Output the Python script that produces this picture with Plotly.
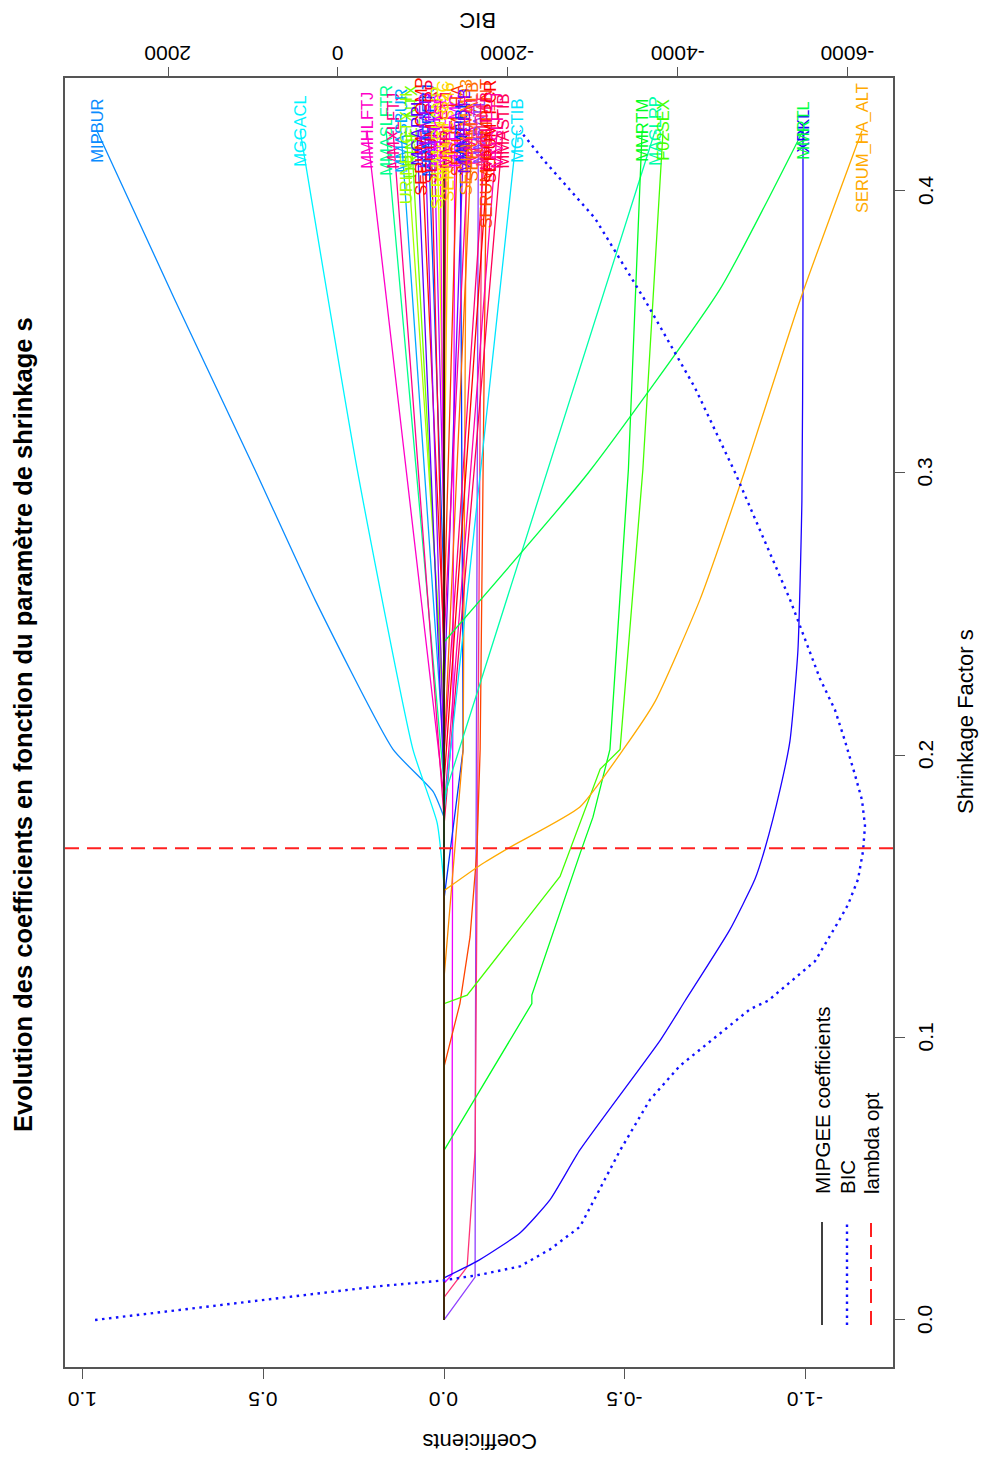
import plotly.graph_objects as go

# ---------------- data ----------------
coef_ticks = [1.0, 0.5, 0.0, -0.5, -1.0]
coef_tick_labels = ["1.0", "0.5", "0.0", "-0.5", "-1.0"]
bic_ticks = [2000, 0, -2000, -4000, -6000]
bic_tick_labels = ["2000", "0", "-2000", "-4000", "-6000"]
s_ticks = [0.0, 0.1, 0.2, 0.3, 0.4]
s_tick_labels = ["0.0", "0.1", "0.2", "0.3", "0.4"]

lambda_opt = 0.167
s_end = 0.421

bic_s = [0.0, 0.012, 0.014, 0.016, 0.019, 0.025, 0.033, 0.05, 0.06, 0.078, 0.09, 0.1, 0.11,
         0.113, 0.118, 0.127, 0.142, 0.147, 0.156, 0.166, 0.175, 0.184, 0.193, 0.205, 0.216,
         0.227, 0.255, 0.3, 0.33, 0.361, 0.39, 0.41, 0.421]
bic_values = [2860, -498, -1240, -1675, -2147, -2500, -2853, -3149, -3325, -3678, -4031, -4444, -4856,
              -5068, -5268, -5622, -5917, -6011, -6129, -6188, -6211, -6176, -6093, -5975, -5857,
              -5681, -5328, -4680, -4208, -3619, -3030, -2442, -2147]

var_names = ["MIPBUR", "MGGACL", "MMHLFTJ", "MMASLFTR", "MMXLFTJ", "MMASBUR", "URINE_CTX_II",
             "URINE_NTX", "MGAPPL", "SERUM_COMP", "LIMNMED", "MMMEDFTJ", "SERUM_CRP", "MMLLFTJ",
             "SERUM_PIIANP", "MGCOSB", "SERUM_C2C", "MMRLFTJ", "SERUM_CS846", "MGFEMC", "SERUM_HA",
             "MMTIBL", "SERUM_MMP3", "MMMEDTB", "MMSEAT", "SERUM_ALB", "MMPATL", "MMFEMT",
             "SERUM_COMP_NT", "MMSLFTB", "SERUM_PCR", "MMSLFTJ", "MMASTIB", "MGCTIB", "MAGLRP",
             "MMRTM", "F02SEX", "XRKL", "MMRTL", "SERUM_HA_ALT"]

var_colors = ["#0A8CFF", "#00F5FF", "#FF00C8", "#00FF8C", "#FF008C", "#00AAFF", "#A6FF00",
              "#73FF00", "#5500FF", "#FF1100", "#9900FF", "#0055FF", "#FF0033", "#BB00FF",
              "#DDFF00", "#FF00FF", "#FFEE00", "#FF0066", "#FFCC00", "#EE00FF", "#FF3300",
              "#0033FF", "#FF8800", "#7700FF", "#FF0099", "#FF6600", "#8F3FFF", "#FF3377",
              "#FF4400", "#FF0077", "#FF0000", "#FF00AA", "#FF0055", "#00E5FF", "#00FFAA",
              "#00FF22", "#44FF00", "#1A00FF", "#00FF44", "#FFAA00"]

smooth_vars = ["MIPBUR", "MGGACL", "XRKL", "MMRTL", "SERUM_HA_ALT"]

path_s = [
    [0, 0.178, 0.187, 0.202, 0.255, 0.301, 0.361, 0.421],          # MIPBUR
    [0, 0.154, 0.176, 0.202, 0.301, 0.421],                        # MGGACL
    [0, 0.185, 0.421], [0, 0.19, 0.421], [0, 0.178, 0.421], [0, 0.2, 0.421],
    [0, 0.22, 0.421], [0, 0.21, 0.421], [0, 0.19, 0.421], [0, 0.24, 0.421],
    [0, 0.2, 0.421], [0, 0.26, 0.421], [0, 0.23, 0.421], [0, 0.28, 0.421],
    [0, 0.3, 0.421], [0, 0.27, 0.421], [0, 0.32, 0.421], [0, 0.3, 0.421],
    [0, 0.29, 0.421],
    [0, 0.013, 0.016, 0.2, 0.421],                                 # MGFEMC
    [0, 0.25, 0.421],
    [0, 0.149, 0.202, 0.421],                                      # MMTIBL
    [0, 0.121, 0.202, 0.421],                                      # SERUM_MMP3
    [0, 0.22, 0.421], [0, 0.24, 0.421], [0, 0.2, 0.421],
    [0, 0.0152, 0.1, 0.2, 0.421],                                  # MMPATL
    [0, 0.008, 0.0188, 0.06, 0.2, 0.421],                          # MMFEMT
    [0, 0.0896, 0.112, 0.1356, 0.166, 0.202, 0.421],               # SERUM_COMP_NT
    [0, 0.2, 0.421], [0, 0.19, 0.421], [0, 0.18, 0.421], [0, 0.175, 0.421],
    [0, 0.18, 0.421],                                              # MGCTIB
    [0, 0.185, 0.421],                                             # MAGLRP
    [0, 0.060, 0.112, 0.115, 0.165, 0.178, 0.202, 0.301, 0.421],   # MMRTM
    [0, 0.112, 0.115, 0.157, 0.195, 0.202, 0.301, 0.421],          # F02SEX
    [0, 0.0149, 0.0212, 0.0308, 0.0425, 0.0602, 0.099, 0.113, 0.138, 0.156, 0.167,
     0.188, 0.205, 0.237, 0.29, 0.361, 0.421],                     # XRKL
    [0, 0.24, 0.30, 0.365, 0.421],                                 # MMRTL
    [0, 0.152, 0.161, 0.1674, 0.1816, 0.2018, 0.219, 0.255, 0.301, 0.361, 0.421],  # SERUM_HA_ALT
]
path_coef = [
    [0, 0, 0.030, 0.141, 0.357, 0.523, 0.744, 0.96],
    [0, 0, 0.019, 0.086, 0.24, 0.398],
    [0, 0, 0.213], [0, 0, 0.160], [0, 0, 0.141], [0, 0, 0.119],
    [0, 0, 0.105], [0, 0, 0.091], [0, 0, 0.075], [0, 0, 0.064],
    [0, 0, 0.053], [0, 0, 0.044], [0, 0, 0.036], [0, 0, 0.028],
    [0, 0, 0.019], [0, 0, 0.011], [0, 0, 0.003], [0, 0, -0.006],
    [0, 0, -0.014],
    [0, 0, -0.022, -0.024, -0.030],
    [0, 0, -0.038],
    [0, 0, -0.053, -0.045],
    [0, 0, -0.053, -0.062],
    [0, 0, -0.055], [0, 0, -0.070], [0, 0, -0.078],
    [0, -0.086, -0.087, -0.089, -0.095],
    [0, 0, -0.064, -0.086, -0.094, -0.105],
    [0, 0, -0.044, -0.072, -0.091, -0.100, -0.118],
    [0, 0, -0.116], [0, 0, -0.127], [0, 0, -0.147], [0, 0, -0.163],
    [0, 0, -0.202],
    [0, 0, -0.584],
    [0, 0, -0.243, -0.243, -0.376, -0.412, -0.459, -0.51, -0.548],
    [0, 0, -0.064, -0.321, -0.432, -0.487, -0.55, -0.606],
    [0, 0, -0.097, -0.21, -0.293, -0.376, -0.598, -0.667, -0.79, -0.86, -0.888,
     -0.93, -0.957, -0.979, -0.99, -0.993, -0.993],
    [0, 0, -0.40, -0.764, -0.993],
    [0, 0, -0.1, -0.183, -0.376, -0.495, -0.584, -0.708, -0.833, -0.985, -1.156],
]
zero_path_s = [0, 0.421]
zero_path_coef = [0, 0]

# ---------------- layout geometry (page pixels) ----------------
W, H = 982, 1458
PL, PR, PT, PB = 65, 893, 78, 1367
coef_range = [1.0484, -1.2420]
bic_range = [3214, -6541]
s_range = [-0.01664, 0.43965]
FONT = "Liberation Sans, Arial, Helvetica, sans-serif"
AXC = "#555555"


def px_x(px):
    return (px - PL) / (PR - PL)


def px_y(py):
    return (PB - py) / (PB - PT)


s_per_px = (s_range[1] - s_range[0]) / (PB - PT)

fig = go.Figure()

for name, col, ss, cc in zip(var_names, var_colors, path_s, path_coef):
    if name in smooth_vars:
        fig.add_trace(go.Scatter(x=cc[:2], y=ss[:2], mode="lines", line=dict(color=col, width=1.3),
                                 showlegend=False, hoverinfo="skip"))
        fig.add_trace(go.Scatter(x=cc[1:], y=ss[1:], mode="lines", name=name,
                                 line=dict(color=col, width=1.3, shape="spline", smoothing=0.5),
                                 showlegend=False, hoverinfo="name"))
    else:
        fig.add_trace(go.Scatter(x=cc, y=ss, mode="lines", name=name,
                                 line=dict(color=col, width=1.3),
                                 showlegend=False, hoverinfo="name"))
fig.add_trace(go.Scatter(x=zero_path_coef, y=zero_path_s, mode="lines", line=dict(color="#2a0505", width=1.6),
                         showlegend=False, hoverinfo="skip"))
fig.add_trace(go.Scatter(x=bic_values, y=bic_s, mode="lines", name="BIC",
                         line=dict(color="#1010FF", width=2.4, dash="2.5px,4.5px"),
                         xaxis="x2", yaxis="y", showlegend=False))


def A(**kw):
    d = dict(showarrow=False, xanchor="center", yanchor="middle")
    d.update(kw)
    return d


ann = []
for name, col, cc in zip(var_names, var_colors, path_coef):
    half = len(name) * 5.6
    cpx = PB - (s_end - s_range[0]) / s_per_px
    if cpx - half < PT + 3:
        cpx = PT + 3 + half
    ann.append(A(x=cc[-1], y=px_y(cpx), xref="x", yref="paper", text=name,
                 textangle=-90, font=dict(family=FONT, size=16.5, color=col)))

for v, t in zip(coef_ticks, coef_tick_labels):
    ann.append(A(x=v, y=px_y(1400), xref="x", yref="paper", text=t,
                 textangle=180, font=dict(family=FONT, size=21, color="black")))
for v, t in zip(bic_ticks, bic_tick_labels):
    ann.append(A(x=v, y=px_y(53), xref="x2", yref="paper", text=t,
                 textangle=180, font=dict(family=FONT, size=21, color="black")))
for v, t in zip(s_ticks, s_tick_labels):
    ann.append(A(x=px_x(925), y=v, xref="paper", yref="y", text=t,
                 textangle=-90, font=dict(family=FONT, size=21, color="black")))

ann.append(A(x=px_x(480), y=px_y(1442), xref="paper", yref="paper", text="Coefficients",
             textangle=180, font=dict(family=FONT, size=22, color="black")))
ann.append(A(x=px_x(478), y=px_y(21), xref="paper", yref="paper", text="BIC",
             textangle=180, font=dict(family=FONT, size=22, color="black")))
ann.append(A(x=px_x(965), y=px_y(722), xref="paper", yref="paper", text="Shrinkage Factor s",
             textangle=-90, font=dict(family=FONT, size=22, color="black")))
ann.append(A(x=px_x(23), y=px_y(725), xref="paper", yref="paper",
             text="<b>Evolution des coefficients en fonction du paramètre de shrinkage s</b>",
             textangle=-90, font=dict(family=FONT, size=25.5, color="black")))

legend_items = ["MIPGEE coefficients", "BIC", "lambda opt"]
legend_x = [822, 847, 871]
for t, lx in zip(legend_items, legend_x):
    ann.append(A(x=px_x(lx), y=px_y(1196), xref="paper", yref="paper", text=t,
                 textangle=-90, yanchor="bottom", font=dict(family=FONT, size=20.5, color="black")))

shapes = [
    dict(type="line", xref="paper", yref="y", x0=0, x1=1, y0=lambda_opt, y1=lambda_opt,
         line=dict(color="#FF2020", width=2, dash="14px,8px")),
    dict(type="line", xref="paper", yref="paper", x0=px_x(822), x1=px_x(822), y0=px_y(1325), y1=px_y(1222),
         line=dict(color="black", width=1.5)),
    dict(type="line", xref="paper", yref="paper", x0=px_x(847), x1=px_x(847), y0=px_y(1325), y1=px_y(1222),
         line=dict(color="#1010FF", width=2.4, dash="2.5px,4.5px")),
    dict(type="line", xref="paper", yref="paper", x0=px_x(871), x1=px_x(871), y0=px_y(1325), y1=px_y(1222),
         line=dict(color="#FF2020", width=2, dash="14px,8px")),
]

fig.update_layout(
    width=W, height=H, autosize=False,
    margin=dict(l=PL, r=W - PR, t=PT, b=H - PB, pad=0),
    paper_bgcolor="white", plot_bgcolor="white",
    showlegend=False,
    xaxis=dict(range=coef_range, showgrid=False, zeroline=False, showline=True, mirror=True,
               linecolor=AXC, linewidth=1.5, ticks="outside", tickvals=coef_ticks, ticklen=10,
               tickcolor=AXC, tickwidth=1, showticklabels=False, anchor="y", fixedrange=True),
    xaxis2=dict(range=bic_range, overlaying="x", side="top", showgrid=False, zeroline=False,
                showline=False, ticks="outside", tickvals=bic_ticks, ticklen=10, tickcolor=AXC,
                tickwidth=1, showticklabels=False, anchor="y", fixedrange=True),
    yaxis=dict(range=s_range, side="right", showgrid=False, zeroline=False, showline=True, mirror=True,
               linecolor=AXC, linewidth=1.5, ticks="outside", tickvals=s_ticks, ticklen=10,
               tickcolor=AXC, tickwidth=1, showticklabels=False, fixedrange=True),
    annotations=ann,
    shapes=shapes,
)

fig.write_html("out.html", config={"displayModeBar": False},
               post_script="document.body.style.margin='0px';document.body.style.overflow='hidden';")
